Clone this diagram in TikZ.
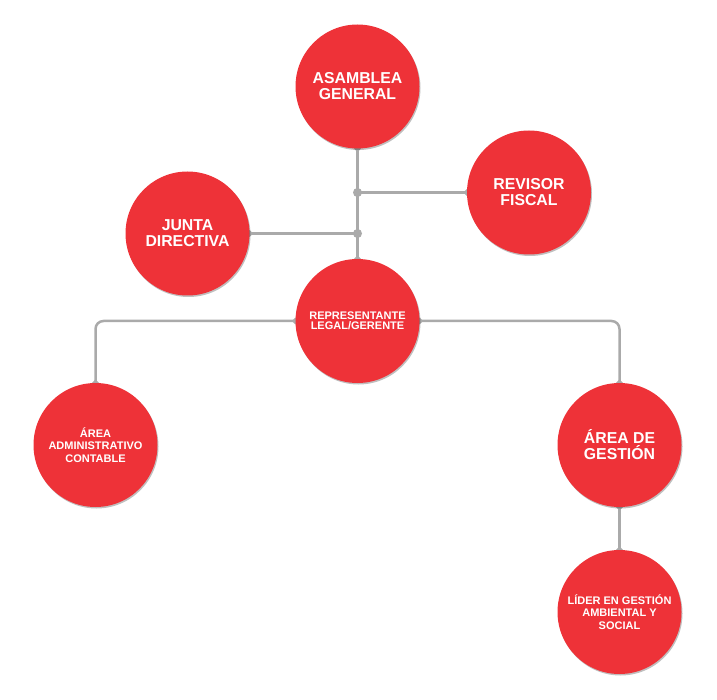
\documentclass[tikz,border=0pt]{standalone}
\usepackage{fontspec}
\setmainfont{Liberation Sans}
\usepackage{tikz}
\usetikzlibrary{shapes,arrows.meta,positioning,backgrounds,shadows}
\definecolor{cardred}{RGB}{238, 50, 56}
\definecolor{linegray}{RGB}{170, 170, 170}
\tikzstyle{unit} = [circle, fill=cardred, text=white, align=center, inner sep=0pt, minimum size=124pt, font=\bfseries\fontsize{15.8}{16}\selectfont, drop shadow={shadow xshift=1pt, shadow yshift=-1.5pt, fill=black, opacity=0.25}]
\tikzstyle{unitsmall} = [unit, font=\bfseries\fontsize{11}{12.5}\selectfont]
\tikzstyle{orgedge} = [draw=linegray, line width=2.5pt, rounded corners=8pt]
\tikzstyle{bothends} = [{Circle[length=6pt]}-{Circle[length=6pt]}, shorten <=-3pt, shorten >=-3pt]
\tikzstyle{oneend} = [-{Circle[length=6pt]}, shorten >=-3pt]
\tikzstyle{jdot} = [circle, fill=linegray, inner sep=0pt, minimum size=9pt]

\begin{document}
\begin{tikzpicture}[x=1pt, y=1pt, on grid]
\useasboundingbox (0,0) rectangle (717,-700);

% units =============================

% top
\node[unit] (asamblea) at (357.5,-86.5) {ASAMBLEA\\GENERAL};
\node[unit, below right=106pt and 171.5pt of asamblea] (revisor) {REVISOR\\FISCAL};
\node[unit, below left=147pt and 170pt of asamblea] (junta) {JUNTA\\DIRECTIVA};
\node[unitsmall, below=234.5pt of asamblea, font=\bfseries\fontsize{11}{10}\selectfont] (gerente) {REPRESENTANTE\\LEGAL/GERENTE};

% areas
\node[unitsmall, below left=124pt and 262pt of gerente] (admin) {ÁREA\\ADMINISTRATIVO\\CONTABLE};
\node[unit, below right=124pt and 262pt of gerente] (gestion) {ÁREA DE\\GESTIÓN};
\node[unitsmall, below=167pt of gestion] (lider) {LÍDER EN GESTIÓN\\AMBIENTAL Y\\SOCIAL};

% junctions
\node[jdot] (jfiscal) at (asamblea |- revisor) {};
\node[jdot] (jjunta) at (asamblea |- junta) {};

%edges
\begin{scope}[on background layer]
\path[orgedge, bothends] (asamblea.south) -- (gerente.north);
\path[orgedge, oneend] (jfiscal.center) -- (revisor.west);
\path[orgedge, oneend] (jjunta.center) -- (junta.east);
\path[orgedge, bothends] (gerente.west) -| (admin.north);
\path[orgedge, bothends] (gerente.east) -| (gestion.north);
\path[orgedge, bothends] (gestion.south) -- (lider.north);
\end{scope}

\end{tikzpicture}
\end{document}
